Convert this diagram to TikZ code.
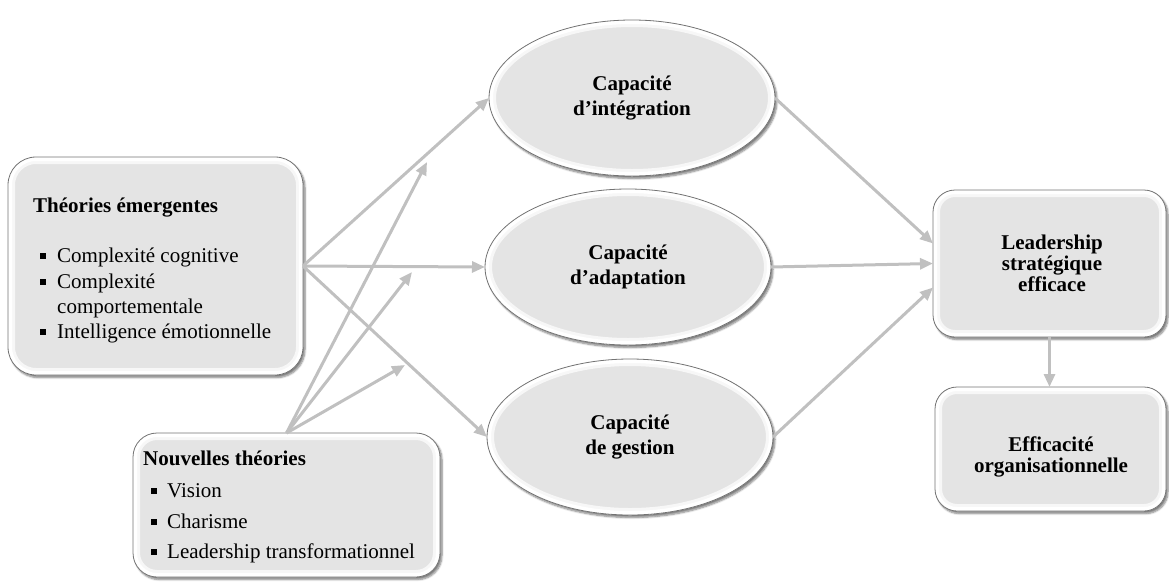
\documentclass[tikz,border=0pt]{standalone}
\usepackage{fontspec}
\setmainfont{Liberation Serif}
\usetikzlibrary{arrows.meta,shapes.geometric,shadows.blur}

\definecolor{boxfill}{RGB}{228,228,228}
\definecolor{boxrim}{RGB}{115,115,115}
\definecolor{arrowgray}{RGB}{192,192,192}

\newcommand{\sqbullet}{\rule[3pt]{6pt}{6pt}}

\tikzset{
  softshadow/.style={blur shadow={shadow xshift=2pt, shadow yshift=-2.5pt,
      shadow blur steps=6, shadow opacity=50}},
  panel/.style={draw=boxrim, line width=0.8pt, fill=boxfill, rounded corners=#1,
    inner sep=0pt, outer sep=0pt, softshadow,
    path picture={
      \draw[white!70!boxfill, line width=14pt, rounded corners=#1]
        (path picture bounding box.south west) rectangle (path picture bounding box.north east);
      \draw[white, line width=8pt, rounded corners=#1]
        (path picture bounding box.south west) rectangle (path picture bounding box.north east);}},
  panel/.default=22pt,
  capsule/.style={ellipse, draw=boxrim, line width=0.8pt, fill=boxfill,
    minimum width=286pt, minimum height=156pt, inner sep=0pt, outer sep=0pt,
    align=center, font=\bfseries\fontsize{21}{24.5}\selectfont, softshadow,
    path picture={
      \draw[white!70!boxfill, line width=14pt]
        (path picture bounding box.center) ellipse [x radius=143pt, y radius=78pt];
      \draw[white, line width=8pt]
        (path picture bounding box.center) ellipse [x radius=143pt, y radius=78pt];}},
  txt/.style={inner sep=0pt, anchor=base west, font=\fontsize{21}{24}\selectfont},
  head/.style={txt, font=\bfseries\fontsize{21}{24}\selectfont},
  boxlabel/.style={inner sep=0pt, align=center, font=\bfseries\fontsize{21}{21}\selectfont},
  flow/.style={draw=arrowgray, line width=3pt, -{Triangle[length=13pt,width=11pt]}}
}

\begin{document}
\begin{tikzpicture}[x=1pt,y=-1pt]
\useasboundingbox (0,0) rectangle (1169,587);

% left-hand theory boxes
\node[panel=28pt, minimum width=295pt, minimum height=218pt] (te) at (155.5,266) {};
\node[head] (te-h) at (33,212) {Théories émergentes};
\node[txt] (te-1) at (40,262) {\makebox[17pt][l]{\sqbullet}Complexité cognitive};
\node[txt] (te-2) at (40,288) {\makebox[17pt][l]{\sqbullet}Complexité};
\node[txt] (te-3) at (57,313) {comportementale};
\node[txt] (te-4) at (40,338) {\makebox[17pt][l]{\sqbullet}Intelligence émotionnelle};

\node[panel=24pt, minimum width=307pt, minimum height=144pt] (nt) at (286.5,505) {};
\node[head] (nt-h) at (143,465) {Nouvelles théories};
\node[txt] (nt-1) at (151,497) {\makebox[16pt][l]{\sqbullet}Vision};
\node[txt] (nt-2) at (151,528) {\makebox[16pt][l]{\sqbullet}Charisme};
\node[txt] (nt-3) at (151,558) {\makebox[16pt][l]{\sqbullet}Leadership transformationnel};

% capacities
\node[capsule] (e1) at (632,98) {Capacité\\d’intégration};
\node[capsule] (e2) at (628,267) {Capacité\\d’adaptation};
\node[capsule] (e3) at (630,437) {Capacité\\de gestion};

% outcomes
\node[panel, minimum width=233pt, minimum height=147pt] (lead) at (1049.5,263.5) {};
\node[boxlabel] (lead-t) at (1052,263) {Leadership\\stratégique\\efficace};
\node[panel, minimum width=231pt, minimum height=124pt] (eff) at (1050.5,449) {};
\node[boxlabel] (eff-t) at (1051,457) {Efficacité\\organisationnelle};

% connectors
\draw[flow] (te.east) -- (e1.west);
\draw[flow] (te.east) -- (e2.west);
\draw[flow] (te.east) -- (e3.west);

\coordinate (t1) at (427,162);
\coordinate (t2) at (412,272);
\coordinate (t3) at (405,365);
\draw[flow] (nt.north) -- (t1);
\draw[flow] (nt.north) -- (t2);
\draw[flow] (nt.north) -- (t3);

\draw[flow] (e1.east) -- ([yshift=20pt]lead.west);
\draw[flow] (e2.east) -- (lead.west);
\draw[flow] (e3.east) -- ([yshift=-24pt]lead.west);

\draw[flow] (lead.south) -- (lead.south |- eff.north);
\end{tikzpicture}
\end{document}
